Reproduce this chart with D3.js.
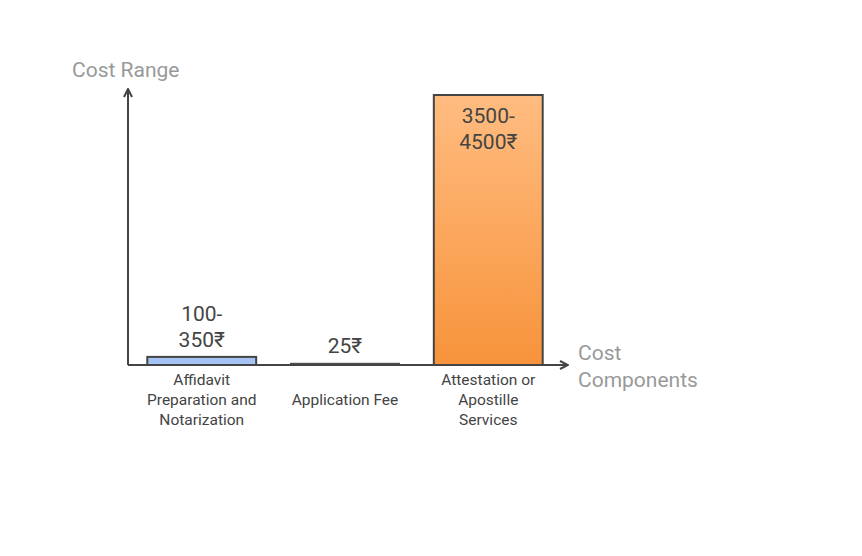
<!DOCTYPE html>
<html><head><meta charset="utf-8">
<script src="https://cdn.jsdelivr.net/npm/d3@7"></script>
<style>body{margin:0;background:#fff}text{font-family:Roboto,sans-serif}</style>
</head><body><div id="chart"></div>
<script>
var categories = [["Affidavit", "Preparation and", "Notarization"], ["Application Fee"], ["Attestation or", "Apostille", "Services"]];
var values = [120, 25, 4000];
var valueLabels = [["100-", "350₹"], ["25₹"], ["3500-", "4500₹"]];

var svg = d3.select("#chart").append("svg").attr("width", 862).attr("height", 556);

var defs = svg.append("defs");
var grad = defs.append("linearGradient").attr("id", "og").attr("x1", 0).attr("y1", 0).attr("x2", 0).attr("y2", 1);
grad.append("stop").attr("offset", "0%").attr("stop-color", "#ffbc80");
grad.append("stop").attr("offset", "100%").attr("stop-color", "#f7933b");
defs.append("marker").attr("id", "arr").attr("viewBox", "0 0 10 10").attr("refX", 9).attr("refY", 5)
  .attr("markerWidth", 10).attr("markerHeight", 10).attr("markerUnits", "userSpaceOnUse").attr("orient", "auto")
  .append("path").attr("d", "M1,1 L9,5 L1,9").attr("fill", "none").attr("stroke", "#444").attr("stroke-width", 2);

var x0 = 128, y0 = 365;
var x = d3.scaleBand().domain(d3.range(categories.length)).range([143, 547]).paddingInner(0.24).paddingOuter(0.03);
var y = d3.scaleLinear().domain([0, 4000]).range([y0, 95]);
var fills = ["#a4c2f4", "#444", "url(#og)"];

svg.append("line").attr("x1", x0).attr("y1", y0).attr("x2", x0).attr("y2", 89)
  .attr("stroke", "#444").attr("stroke-width", 2).attr("marker-end", "url(#arr)");
svg.append("line").attr("x1", x0).attr("y1", y0).attr("x2", 568).attr("y2", y0)
  .attr("stroke", "#444").attr("stroke-width", 2).attr("marker-end", "url(#arr)");

values.forEach(function (v, i) {
  var bx = x(i), bw = x.bandwidth(), top = y(v);
  svg.append("rect").attr("x", bx).attr("y", top).attr("width", bw).attr("height", y0 - top)
    .attr("fill", fills[i]).attr("stroke", "#444").attr("stroke-width", i == 1 ? 1 : 2);
  var lines = valueLabels[i];
  var ly = i == 2 ? top + 28 : top - 10 - (lines.length - 1) * 26;
  lines.forEach(function (t, k) {
    svg.append("text").attr("x", bx + bw / 2).attr("y", ly + k * 26).attr("text-anchor", "middle")
      .attr("font-size", 21).attr("fill", "#444").text(t);
  });
  categories[i].forEach(function (t, k) {
    var cy = categories[i].length == 1 ? 405 : 385 + k * 20;
    svg.append("text").attr("x", bx + bw / 2).attr("y", cy).attr("text-anchor", "middle")
      .attr("font-size", 15.5).attr("fill", "#444").text(t);
  });
});

svg.append("text").attr("x", 72).attr("y", 77).attr("font-size", 21).attr("fill", "#999").text("Cost Range");
svg.append("text").attr("x", 578).attr("y", 360).attr("font-size", 21).attr("fill", "#999").text("Cost");
svg.append("text").attr("x", 578).attr("y", 387).attr("font-size", 21).attr("fill", "#999").text("Components");
</script></body></html>
